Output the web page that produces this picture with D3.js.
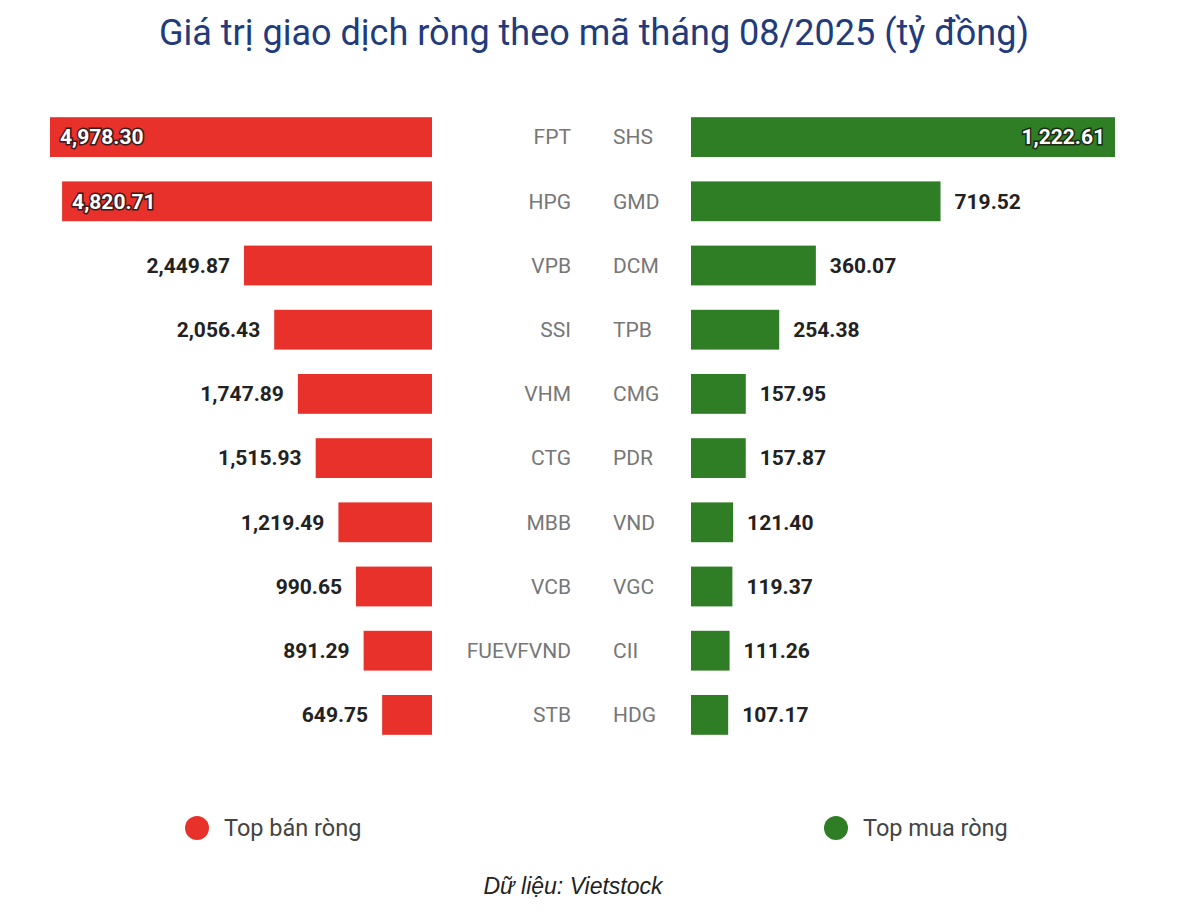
<!DOCTYPE html>
<html>
<head>
<meta charset="utf-8">
<script src="https://cdn.jsdelivr.net/npm/d3@7"></script>
<style>
body { margin: 0; background: #fff; }
svg text { font-family: Roboto, "Noto Sans", sans-serif; }
</style>
</head>
<body>
<div id="chart"></div>
<script>
// data
const sellTickers = ["FPT", "HPG", "VPB", "SSI", "VHM", "CTG", "MBB", "VCB", "FUEVFVND", "STB"];
const sellValues  = [4978.30, 4820.71, 2449.87, 2056.43, 1747.89, 1515.93, 1219.49, 990.65, 891.29, 649.75];
const buyTickers  = ["SHS", "GMD", "DCM", "TPB", "CMG", "PDR", "VND", "VGC", "CII", "HDG"];
const buyValues   = [1222.61, 719.52, 360.07, 254.38, 157.95, 157.87, 121.40, 119.37, 111.26, 107.17];
const legendLabels = ["Top bán ròng", "Top mua ròng"];

const W = 1200, H = 919;
const red = "#e8312a", green = "#2f7d24";
const fmt = d3.format(",.2f");

const svg = d3.select("#chart").append("svg")
  .attr("width", W).attr("height", H);

// title
svg.append("text")
  .attr("x", 594).attr("y", 45)
  .attr("text-anchor", "middle")
  .attr("fill", "#213b7c")
  .style("font-size", "36px")
  .text("Giá trị giao dịch ròng theo mã tháng 08/2025 (tỷ đồng)");

const rows = d3.range(sellTickers.length);

const y = d3.scaleBand()
  .domain(rows)
  .range([105, 747])
  .paddingInner(0.38)
  .paddingOuter(0.19);

const xLeft = d3.scaleLinear()
  .domain([0, d3.max(sellValues)])
  .range([432, 50]);

const xRight = d3.scaleLinear()
  .domain([0, d3.max(buyValues)])
  .range([691, 1115]);

// left bars (sell)
const left = svg.append("g");
left.selectAll("rect")
  .data(rows)
  .enter().append("rect")
  .attr("x", i => xLeft(sellValues[i]))
  .attr("y", i => y(i))
  .attr("width", i => xLeft(0) - xLeft(sellValues[i]))
  .attr("height", y.bandwidth())
  .attr("fill", red);

left.selectAll("text.val")
  .data(rows)
  .enter().append("text")
  .attr("class", "val")
  .each(function(i) {
    const inside = sellValues[i] > 0.8 * d3.max(sellValues);
    const t = d3.select(this)
      .attr("y", y(i) + y.bandwidth() / 2)
      .attr("dy", "0.35em")
      .style("font-size", "21px")
      .style("font-weight", "bold")
      .text(fmt(sellValues[i]));
    if (inside) {
      t.attr("x", xLeft(sellValues[i]) + 10)
        .attr("text-anchor", "start")
        .attr("fill", "#fff")
        .attr("stroke", "#3a1a1a")
        .attr("stroke-width", 3)
        .attr("paint-order", "stroke");
    } else {
      t.attr("x", xLeft(sellValues[i]) - 14)
        .attr("text-anchor", "end")
        .attr("fill", "#222");
    }
  });

left.selectAll("text.tk")
  .data(rows)
  .enter().append("text")
  .attr("class", "tk")
  .attr("x", 571)
  .attr("y", i => y(i) + y.bandwidth() / 2)
  .attr("dy", "0.35em")
  .attr("text-anchor", "end")
  .attr("fill", "#777")
  .style("font-size", "21px")
  .text(i => sellTickers[i]);

// right bars (buy)
const right = svg.append("g");
right.selectAll("rect")
  .data(rows)
  .enter().append("rect")
  .attr("x", xRight(0))
  .attr("y", i => y(i))
  .attr("width", i => xRight(buyValues[i]) - xRight(0))
  .attr("height", y.bandwidth())
  .attr("fill", green);

right.selectAll("text.val")
  .data(rows)
  .enter().append("text")
  .attr("class", "val")
  .each(function(i) {
    const inside = buyValues[i] > 0.8 * d3.max(buyValues);
    const t = d3.select(this)
      .attr("y", y(i) + y.bandwidth() / 2)
      .attr("dy", "0.35em")
      .style("font-size", "21px")
      .style("font-weight", "bold")
      .text(fmt(buyValues[i]));
    if (inside) {
      t.attr("x", xRight(buyValues[i]) - 10)
        .attr("text-anchor", "end")
        .attr("fill", "#fff")
        .attr("stroke", "#1a2a14")
        .attr("stroke-width", 3)
        .attr("paint-order", "stroke");
    } else {
      t.attr("x", xRight(buyValues[i]) + 14)
        .attr("text-anchor", "start")
        .attr("fill", "#222");
    }
  });

right.selectAll("text.tk")
  .data(rows)
  .enter().append("text")
  .attr("class", "tk")
  .attr("x", 613)
  .attr("y", i => y(i) + y.bandwidth() / 2)
  .attr("dy", "0.35em")
  .attr("text-anchor", "start")
  .attr("fill", "#777")
  .style("font-size", "21px")
  .text(i => buyTickers[i]);

// legend
const legend = svg.append("g");
const legendItems = [
  { label: legendLabels[0], color: red, x: 197 },
  { label: legendLabels[1], color: green, x: 836 }
];
const li = legend.selectAll("g")
  .data(legendItems)
  .enter().append("g")
  .attr("transform", d => `translate(${d.x},828)`);
li.append("circle").attr("r", 12).attr("fill", d => d.color);
li.append("text")
  .attr("x", 27)
  .attr("dy", "0.35em")
  .attr("fill", "#444")
  .style("font-size", "23.5px")
  .text(d => d.label);

// source
svg.append("text")
  .attr("x", 573).attr("y", 894)
  .attr("text-anchor", "middle")
  .attr("fill", "#222")
  .style("font-family", "'Liberation Sans', Arial, sans-serif")
  .style("font-size", "23px")
  .style("font-style", "italic")
  .text("Dữ liệu: Vietstock");
</script>
</body>
</html>
